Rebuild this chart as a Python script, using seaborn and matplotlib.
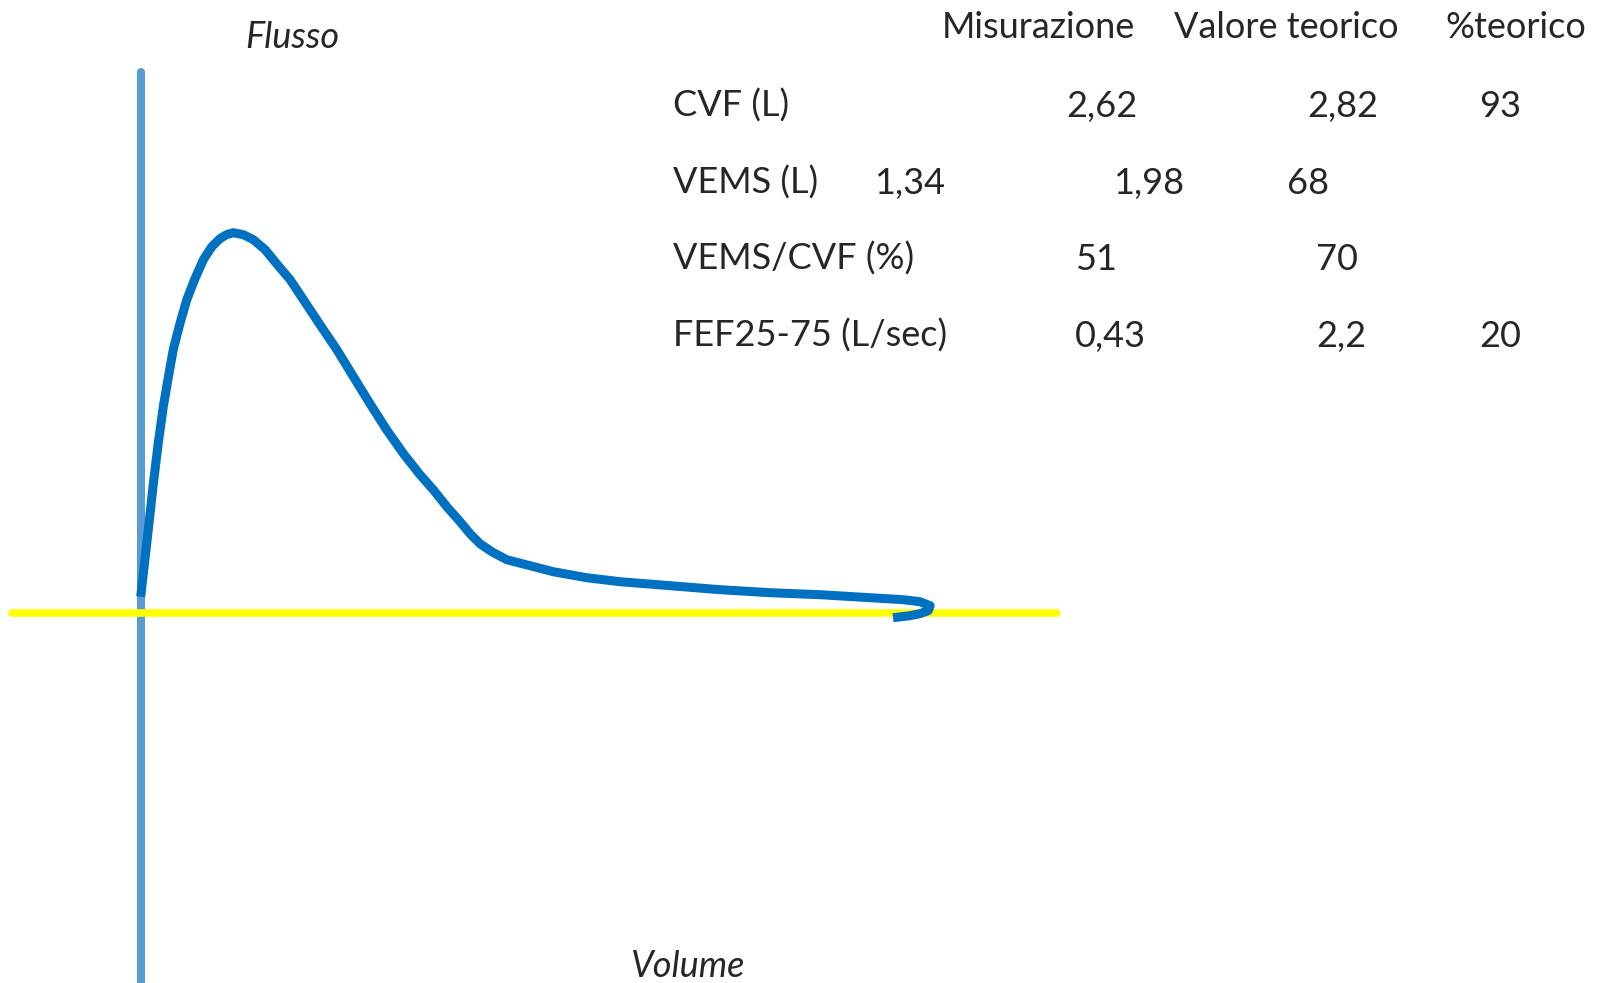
import numpy as np
import pandas as pd
import matplotlib
matplotlib.use("Agg")
import matplotlib.pyplot as plt
import seaborn as sns

# flow-volume curve (volume in L, flow in L/s)
volume = [0.000, 0.020, 0.042, 0.058, 0.075, 0.092, 0.108, 0.130, 0.153, 0.180,
          0.208, 0.236, 0.263, 0.285, 0.307, 0.341, 0.374, 0.413, 0.451, 0.496,
          0.540, 0.595, 0.651, 0.706, 0.761, 0.816, 0.872, 0.927, 0.971, 1.016,
          1.060, 1.093, 1.126, 1.165, 1.215, 1.292, 1.369, 1.480, 1.591, 1.757,
          1.923, 2.089, 2.255, 2.421, 2.531, 2.586, 2.620, 2.614, 2.586, 2.553,
          2.497]
flow = [0.16, 0.69, 1.29, 1.69, 2.06, 2.36, 2.63, 2.89, 3.13, 3.34,
        3.53, 3.66, 3.74, 3.78, 3.80, 3.78, 3.73, 3.63, 3.49, 3.33,
        3.13, 2.88, 2.63, 2.36, 2.09, 1.83, 1.59, 1.38, 1.23, 1.06,
        0.91, 0.79, 0.69, 0.61, 0.53, 0.47, 0.41, 0.35, 0.31, 0.27,
        0.23, 0.20, 0.18, 0.15, 0.13, 0.11, 0.07, 0.02, -0.01, -0.03,
        -0.05]

# table values
headers = ["Misurazione", "Valore teorico", "%teorico"]
row_labels = ["CVF (L)", "VEMS (L)", "VEMS/CVF (%)", "FEF25-75 (L/sec)"]
measured = ["2,62", "1,34", "51", "0,43"]
theoretical = ["2,82", "1,98", "70", "2,2"]
percent = ["93", "68", "", "20"]

curve = pd.DataFrame({"Volume": volume, "Flusso": flow})

W, H = 1606, 983
sns.set_theme(style="white")
plt.rcParams["font.family"] = ["Lato", "DejaVu Sans"]

fig = plt.figure(figsize=(W / 100, H / 100), dpi=100)
ax = fig.add_axes([0, 0, 1, 1])

# pixel mapping: origin at (140.7, 612.7), 301.3 px per L, 100 px per L/s
x0, y0, sx, sy = 140.7, 612.7, 301.3, 100.0
ax.set_xlim(-x0 / sx, (W - x0) / sx)
ax.set_ylim((y0 - H) / sy, y0 / sy)
ax.set_axis_off()

ax.axvline(0, ymin=0, ymax=(H - 72) / H, color="#5B9BD5", lw=5.8, zorder=1)
ax.axhline(0, xmin=12 / W, xmax=1057 / W, color="#FFFF00", lw=5.5, zorder=1)

sns.lineplot(data=curve, x="Volume", y="Flusso", sort=False, ax=ax,
             color="#0070C0", lw=6.5, zorder=3, estimator=None)
for ln in ax.lines[-1:]:
    ln.set_solid_joinstyle("round")
    ln.set_solid_capstyle("butt")

# text, placed in figure pixels
def put(x, y, s, **kw):
    fig.text(x / W, 1 - y / H, s, va="baseline", **kw)

fs = 26
put(292, 48, "Flusso", ha="center", style="italic", fontsize=fs)
put(687, 977, "Volume", ha="center", style="italic", fontsize=fs)

header_x = [942, 1174, 1445]
for hx, h in zip(header_x, headers):
    put(hx, 38, h, fontsize=fs)

row_y = [117, 194, 270, 347]
cell_x = [[1066, 1307, 1479],
          [874, 1113, 1287],
          [1075, 1316, 1479],
          [1075, 1316, 1479]]
for i, lab in enumerate(row_labels):
    put(673, row_y[i], lab, fontsize=fs)
    for cx, val in zip(cell_x[i], [measured[i], theoretical[i], percent[i]]):
        if val:
            put(cx, row_y[i], val, fontsize=fs)

fig.savefig("out.png", dpi=100, facecolor="white")
